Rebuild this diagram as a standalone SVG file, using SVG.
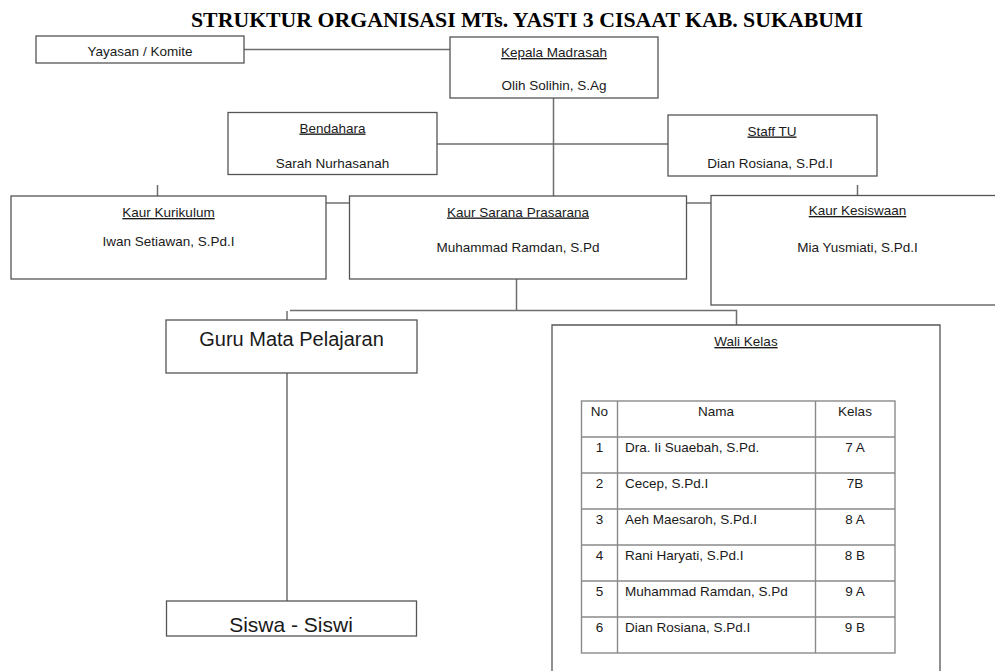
<svg xmlns="http://www.w3.org/2000/svg" width="995" height="671" viewBox="0 0 995 671">
<style>
.box{fill:#fff;stroke:#555;stroke-width:1.3}
.ln{fill:none;stroke:#6e6e6e;stroke-width:1.5}
.tb{fill:none;stroke:#8a8a8a;stroke-width:1.4}
text{font-family:"Liberation Sans",Arial,sans-serif;font-size:13.5px;fill:#1a1a1a}
.c{text-anchor:middle}
.u{text-decoration:underline}
.title{font-family:"Liberation Serif","Times New Roman",serif;font-weight:bold;font-size:21.8px;fill:#000}
.big{font-size:20px}
.big2{font-size:21px}
</style>
<rect width="995" height="671" fill="#fff"/>
<text class="title c" x="527" y="27">STRUKTUR ORGANISASI MTs. YASTI 3 CISAAT KAB. SUKABUMI</text>
<g id="connectors">
<line class="ln" x1="244" y1="49.5" x2="450" y2="49.5"/>
<line class="ln" x1="553.5" y1="98" x2="553.5" y2="196"/>
<line class="ln" x1="437" y1="144" x2="668" y2="144"/>
<line class="ln" x1="157.5" y1="185" x2="157.5" y2="196"/>
<line class="ln" x1="857.5" y1="185" x2="857.5" y2="195"/>
<line class="ln" x1="326" y1="203" x2="349" y2="203"/>
<line class="ln" x1="687" y1="203" x2="711" y2="203"/>
<line class="ln" x1="516.5" y1="279" x2="516.5" y2="310.5"/>
<path class="ln" d="M290,310.5 H736.5 V325"/>
<line class="ln" x1="287" y1="311" x2="287" y2="320"/>
<line class="ln" x1="287" y1="373" x2="287" y2="601"/>
</g>
<g id="yayasan">
<rect class="box" x="36" y="36" width="208" height="27"/>
<text class="c" x="140" y="55.5">Yayasan / Komite</text>
</g>
<g id="kepala">
<rect class="box" x="450" y="37" width="208" height="61"/>
<text class="c u" x="554" y="57">Kepala Madrasah</text>
<text class="c" x="554" y="90">Olih Solihin, S.Ag</text>
</g>
<g id="bendahara">
<rect class="box" x="228" y="112.5" width="209" height="62"/>
<text class="c u" x="332.5" y="132.5">Bendahara</text>
<text class="c" x="332.5" y="167.5">Sarah Nurhasanah</text>
</g>
<g id="staff">
<rect class="box" x="668" y="115" width="209" height="61"/>
<text class="c u" x="772" y="135.5">Staff TU</text>
<text class="c" x="770" y="168">Dian Rosiana, S.Pd.I</text>
</g>
<g id="kurikulum">
<rect class="box" x="11" y="196" width="315" height="83"/>
<text class="c u" x="168.5" y="217">Kaur Kurikulum</text>
<text class="c" x="168.5" y="246">Iwan Setiawan, S.Pd.I</text>
</g>
<g id="sarana">
<rect class="box" x="349.5" y="196" width="337" height="83"/>
<text class="c u" x="518" y="216.5">Kaur Sarana Prasarana</text>
<text class="c" x="518" y="252">Muhammad Ramdan, S.Pd</text>
</g>
<g id="kesiswaan">
<rect class="box" x="711" y="195.5" width="300" height="109.5"/>
<text class="c u" x="857.5" y="215">Kaur Kesiswaan</text>
<text class="c" x="857.5" y="251.5">Mia Yusmiati, S.Pd.I</text>
</g>
<g id="guru">
<rect class="box" x="166" y="320" width="251" height="53"/>
<text class="c big" x="291.5" y="346">Guru Mata Pelajaran</text>
</g>
<g id="siswa">
<rect class="box" x="166.5" y="601" width="250" height="35"/>
<text class="c big2" x="291" y="631.5">Siswa - Siswi</text>
</g>
<g id="walikelas">
<path class="box" d="M552,680 V325 H940 V680"/>
<text class="c u" x="746" y="346">Wali Kelas</text>
<g id="table">
<rect class="tb" x="581.5" y="401" width="313.5" height="252"/>
<line class="tb" x1="617.5" y1="401" x2="617.5" y2="653"/>
<line class="tb" x1="815.5" y1="401" x2="815.5" y2="653"/>
<line class="tb" x1="581.5" y1="437" x2="895" y2="437"/>
<line class="tb" x1="581.5" y1="473" x2="895" y2="473"/>
<line class="tb" x1="581.5" y1="509" x2="895" y2="509"/>
<line class="tb" x1="581.5" y1="545" x2="895" y2="545"/>
<line class="tb" x1="581.5" y1="581" x2="895" y2="581"/>
<line class="tb" x1="581.5" y1="617" x2="895" y2="617"/>
<text class="c" x="599.5" y="416">No</text>
<text class="c" x="716" y="416">Nama</text>
<text class="c" x="855" y="416">Kelas</text>
<text class="c" x="599.5" y="452">1</text>
<text x="625" y="452">Dra. Ii Suaebah, S.Pd.</text>
<text class="c" x="855" y="452">7 A</text>
<text class="c" x="599.5" y="488">2</text>
<text x="625" y="488">Cecep, S.Pd.I</text>
<text class="c" x="855" y="488">7B</text>
<text class="c" x="599.5" y="524">3</text>
<text x="625" y="524">Aeh Maesaroh, S.Pd.I</text>
<text class="c" x="855" y="524">8 A</text>
<text class="c" x="599.5" y="560">4</text>
<text x="625" y="560">Rani Haryati, S.Pd.I</text>
<text class="c" x="855" y="560">8 B</text>
<text class="c" x="599.5" y="596">5</text>
<text x="625" y="596">Muhammad Ramdan, S.Pd</text>
<text class="c" x="855" y="596">9 A</text>
<text class="c" x="599.5" y="632">6</text>
<text x="625" y="632">Dian Rosiana, S.Pd.I</text>
<text class="c" x="855" y="632">9 B</text>
</g>
</g>
</svg>
